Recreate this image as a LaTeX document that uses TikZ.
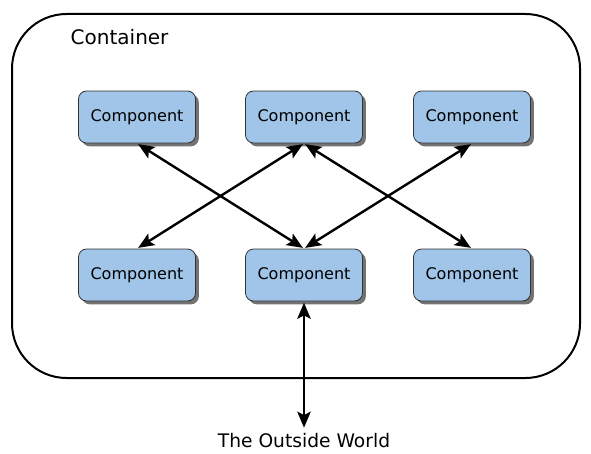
\documentclass[tikz,border=0pt]{standalone}
\usepackage{fontspec}
\setmainfont{DejaVu Sans}
\usetikzlibrary{arrows.meta,shadows}
\definecolor{compblue}{RGB}{160,197,232}
\begin{document}
\begin{tikzpicture}[x=0.75pt,y=-0.75pt,
    container/.style={draw=black,line width=1.5pt,rounded corners=41pt,minimum width=426pt,minimum height=273pt},
    comp/.style={fill=compblue,draw=black!80,line width=.6pt,rounded corners=6pt,minimum width=87.75pt,minimum height=39pt,font=\fontsize{12}{14}\selectfont,
        drop shadow={shadow xshift=2.5pt,shadow yshift=-2.5pt,fill=black!55,opacity=1}},
    link/.style={{Stealth[length=12pt,width=10pt,inset=2.5pt]}-{Stealth[length=12pt,width=10pt,inset=2.5pt]},line width=1.8pt,shorten <=1pt,shorten >=1pt}]
        \useasboundingbox (0,0) rectangle (591,453);

        \node[container] at (296,196) (box) {};
        \node[anchor=west,font=\fontsize{15}{18}\selectfont] at (66,37) (title) {Container};

        \node[comp] at (137,117) (t1) {Component};
        \node[comp] at (304,117) (t2) {Component};
        \node[comp] at (472,117) (t3) {Component};

        \node[comp] at (137,275) (b1) {Component};
        \node[comp] at (304,275) (b2) {Component};
        \node[comp] at (472,275) (b3) {Component};

        \node[font=\fontsize{14}{17}\selectfont] at (304,441) (world) {The Outside World};

        \draw[link] (t1.south) -- (b2.north);
        \draw[link] (t2.south) -- (b1.north);
        \draw[link] (t2.south) -- (b3.north);
        \draw[link] (t3.south) -- (b2.north);
        \draw[link] (b2.south) -- (world.north);
    \end{tikzpicture}
\end{document}
